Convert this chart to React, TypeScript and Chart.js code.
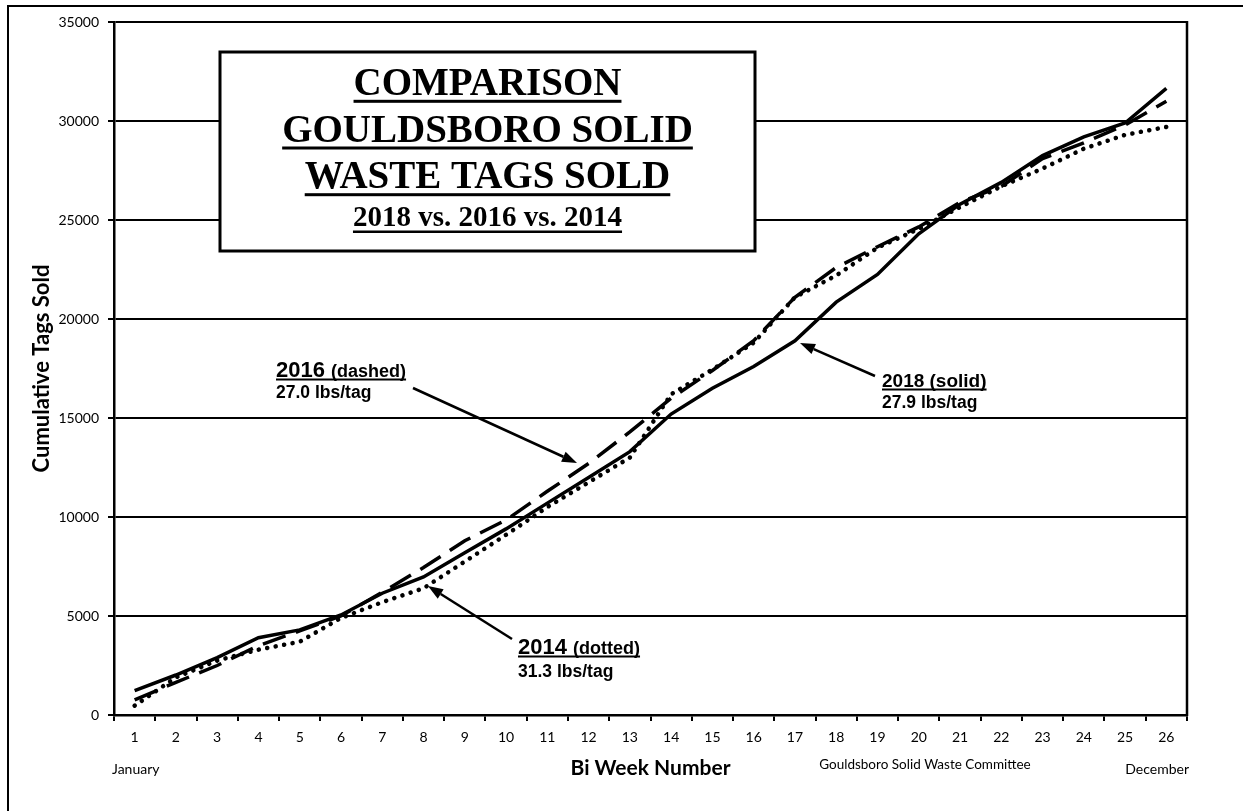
import React, { useEffect, useRef } from "react";
import { Chart, registerables } from "chart.js";

Chart.register(...registerables);

const biWeeks = ["1", "2", "3", "4", "5", "6", "7", "8", "9", "10", "11", "12", "13", "14", "15", "16", "17", "18", "19", "20", "21", "22", "23", "24", "25", "26"];
const tags2018 = [1230, 2020, 2900, 3900, 4300, 5050, 6150, 6970, 8200, 9400, 10700, 12000, 13300, 15200, 16500, 17600, 18900, 20850, 22250, 24300, 25800, 26900, 28250, 29200, 29900, 31650];
const tags2016 = [760, 1650, 2500, 3500, 4250, 5000, 6200, 7450, 8800, 9850, 11300, 12700, 14300, 16000, 17400, 18900, 21100, 22600, 23650, 24650, 25900, 26700, 28100, 28900, 29800, 31000];
const tags2014 = [470, 1900, 2750, 3300, 3700, 4900, 5700, 6400, 7750, 9100, 10500, 11750, 13000, 16200, 17450, 18800, 21100, 22200, 23600, 24550, 25650, 26700, 27600, 28600, 29300, 29700];
const yTicks = [0, 5000, 10000, 15000, 20000, 25000, 30000, 35000];

const titleLines = ["COMPARISON", "GOULDSBORO SOLID", "WASTE TAGS SOLD", "2018 vs. 2016 vs. 2014"];
const xTitle = "Bi Week Number";
const yTitle = "Cumulative Tags Sold";
const startLabel = "January";
const endLabel = "December";
const creditLabel = "Gouldsboro Solid Waste Committee";

const SERIF = '"Liberation Serif", "Times New Roman", serif';
const SANS = '"Liberation Sans", Arial, sans-serif';
const LATO = 'Lato, "Open Sans", sans-serif';

type Run = { text: string; font: string };

function drawRuns(
  ctx: CanvasRenderingContext2D,
  runs: Run[],
  x: number,
  baseline: number,
  align: "left" | "center",
  ulGap: number,
  ulWidth: number
) {
  let total = 0;
  const widths = runs.map((r) => {
    ctx.font = r.font;
    const w = ctx.measureText(r.text).width;
    total += w;
    return w;
  });
  const sx = align === "center" ? x - total / 2 : x;
  ctx.textAlign = "left";
  ctx.textBaseline = "alphabetic";
  let cx = sx;
  runs.forEach((r, i) => {
    ctx.font = r.font;
    ctx.fillText(r.text, cx, baseline);
    cx += widths[i];
  });
  if (ulWidth > 0) {
    ctx.fillRect(sx, baseline + ulGap, total, ulWidth);
  }
}

function arrow(ctx: CanvasRenderingContext2D, x1: number, y1: number, x2: number, y2: number) {
  const ang = Math.atan2(y2 - y1, x2 - x1);
  const head = 15;
  const half = 5.5;
  const bx = x2 - head * Math.cos(ang);
  const by = y2 - head * Math.sin(ang);
  ctx.lineWidth = 2.5;
  ctx.beginPath();
  ctx.moveTo(x1, y1);
  ctx.lineTo(bx, by);
  ctx.stroke();
  ctx.beginPath();
  ctx.moveTo(x2, y2);
  ctx.lineTo(bx + half * Math.sin(ang), by - half * Math.cos(ang));
  ctx.lineTo(bx - half * Math.sin(ang), by + half * Math.cos(ang));
  ctx.closePath();
  ctx.fill();
}

const decorPlugin = {
  id: "decor",
  beforeDraw(chart: any) {
    const ctx = chart.ctx as CanvasRenderingContext2D;
    ctx.save();
    ctx.fillStyle = "#fff";
    ctx.fillRect(0, 0, chart.width, chart.height);
    ctx.restore();
  },
  afterDraw(chart: any) {
    const ctx = chart.ctx as CanvasRenderingContext2D;
    const { top, right, bottom } = chart.chartArea;
    ctx.save();
    ctx.strokeStyle = "#000";
    ctx.fillStyle = "#000";

    // plot area right border
    ctx.lineWidth = 2.5;
    ctx.beginPath();
    ctx.moveTo(right, top - 1);
    ctx.lineTo(right, bottom + 1);
    ctx.stroke();

    // outer frame
    ctx.lineWidth = 2;
    ctx.strokeRect(8, 6, 1300, 900);

    // title box
    ctx.fillStyle = "#fff";
    ctx.fillRect(220, 52, 535, 199);
    ctx.fillStyle = "#000";
    ctx.lineWidth = 3;
    ctx.strokeRect(220, 52, 535, 199);
    const cx = 487.5;
    drawRuns(ctx, [{ text: titleLines[0], font: `bold 39px ${SERIF}` }], cx, 95, "center", 4.8, 3);
    drawRuns(ctx, [{ text: titleLines[1], font: `bold 39px ${SERIF}` }], cx, 141.5, "center", 5, 3);
    drawRuns(ctx, [{ text: titleLines[2], font: `bold 39px ${SERIF}` }], cx, 188, "center", 5.2, 3);
    drawRuns(ctx, [{ text: titleLines[3], font: `bold 29px ${SERIF}` }], cx, 226, "center", 4.5, 2.5);

    // annotations
    drawRuns(
      ctx,
      [
        { text: "2016 ", font: `bold 22px ${SANS}` },
        { text: "(dashed)", font: `bold 18px ${SANS}` },
      ],
      276,
      377,
      "left",
      1.5,
      2
    );
    drawRuns(ctx, [{ text: "27.0 lbs/tag", font: `bold 17.5px ${SANS}` }], 276, 398, "left", 0, 0);
    arrow(ctx, 413, 388, 577, 463);

    drawRuns(ctx, [{ text: "2018 (solid)", font: `bold 19px ${SANS}` }], 882, 387, "left", 1.5, 2);
    drawRuns(ctx, [{ text: "27.9 lbs/tag", font: `bold 17.5px ${SANS}` }], 882, 408, "left", 0, 0);
    arrow(ctx, 875, 376, 800, 343);

    drawRuns(
      ctx,
      [
        { text: "2014 ", font: `bold 22px ${SANS}` },
        { text: "(dotted)", font: `bold 18px ${SANS}` },
      ],
      518,
      654,
      "left",
      1.5,
      2
    );
    drawRuns(ctx, [{ text: "31.3 lbs/tag", font: `bold 17.5px ${SANS}` }], 518, 677, "left", 0, 0);
    arrow(ctx, 512, 639, 428, 586);

    // bottom labels
    ctx.textBaseline = "middle";
    ctx.font = `14px ${LATO}`;
    ctx.textAlign = "left";
    ctx.fillText(startLabel, 112, 769);
    ctx.textAlign = "right";
    ctx.fillText(endLabel, 1189, 769);
    ctx.font = `13.5px ${LATO}`;
    ctx.textAlign = "center";
    ctx.fillText(creditLabel, 925, 765);

    ctx.restore();
  },
};

export default function App() {
  const canvasRef = useRef<HTMLCanvasElement | null>(null);

  useEffect(() => {
    if (!canvasRef.current) return;
    const chart = new Chart(canvasRef.current, {
      type: "line",
      data: {
        labels: biWeeks,
        datasets: [
          {
            label: "2018",
            data: tags2018,
            borderColor: "#000",
            borderWidth: 3.5,
            pointRadius: 0,
            tension: 0,
            fill: false,
          },
          {
            label: "2016",
            data: tags2016,
            borderColor: "#000",
            borderWidth: 3.5,
            borderDash: [24, 11],
            pointRadius: 0,
            tension: 0,
            fill: false,
          },
          {
            label: "2014",
            data: tags2014,
            borderColor: "#000",
            borderWidth: 4.5,
            borderDash: [0.1, 8.5],
            borderCapStyle: "round",
            pointRadius: 0,
            tension: 0,
            fill: false,
          },
        ],
      },
      options: {
        responsive: false,
        maintainAspectRatio: false,
        animation: false,
        layout: { padding: { left: 0, top: 22, right: 56, bottom: 0 } },
        plugins: {
          legend: { display: false },
          tooltip: { enabled: false },
          title: { display: false },
        },
        scales: {
          x: {
            type: "category",
            offset: true,
            grid: {
              offset: true,
              drawOnChartArea: false,
              drawTicks: true,
              tickLength: 6,
              color: "#000",
              lineWidth: 2,
            },
            border: { display: true, color: "#000", width: 2.5 },
            ticks: {
              color: "#000",
              font: { family: LATO, size: 14 },
              padding: 8,
              maxRotation: 0,
              autoSkip: false,
            },
            title: {
              display: true,
              text: xTitle,
              color: "#000",
              font: { family: LATO, size: 21, weight: "bold" },
              padding: { top: 0, bottom: 30 },
            },
            afterFit: (s: any) => {
              s.height = 96;
            },
          },
          y: {
            min: 0,
            max: 35000,
            afterBuildTicks: (s: any) => {
              s.ticks = yTicks.map((v) => ({ value: v }));
            },
            grid: { color: "#000", lineWidth: 2, tickLength: 6, drawTicks: true },
            border: { display: true, color: "#000", width: 2.5 },
            ticks: {
              color: "#000",
              font: { family: LATO, size: 14 },
              padding: 9,
              callback: (v: any) => String(v),
            },
            title: {
              display: true,
              text: yTitle,
              color: "#000",
              font: { family: LATO, size: 22, weight: "bold" },
              padding: { top: 29, bottom: 0 },
            },
            afterFit: (s: any) => {
              s.width = 114;
            },
          },
        },
      } as any,
      plugins: [decorPlugin],
    });
    return () => chart.destroy();
  }, []);

  return (
    <div style={{ position: "absolute", left: 0, top: 0, width: 1243, height: 811, background: "#fff", overflow: "hidden" }}>
      <canvas ref={canvasRef} width={1243} height={811} style={{ display: "block", width: 1243, height: 811 }} />
    </div>
  );
}
